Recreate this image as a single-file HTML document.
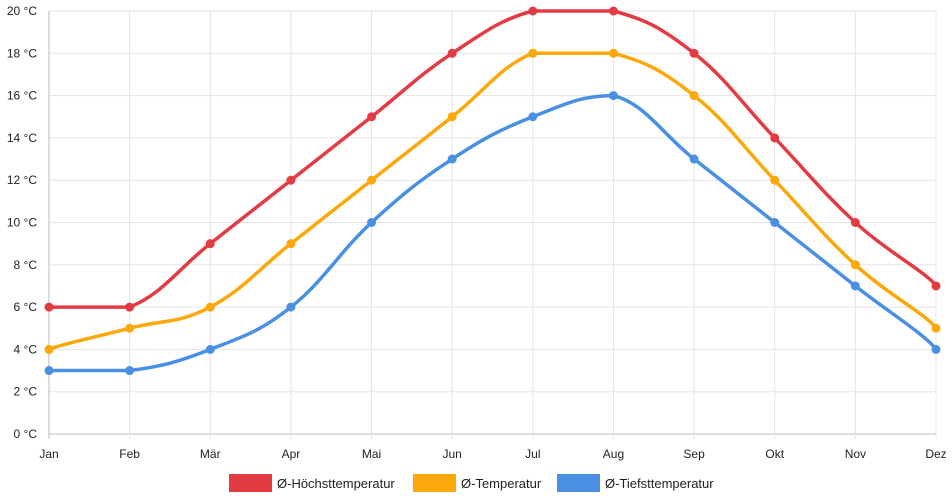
<!DOCTYPE html>
<html><head><meta charset="utf-8"><style>
body{margin:0;background:#fff;}
svg{display:block;font-family:"Liberation Sans",sans-serif;}
</style></head><body>
<svg id="c" width="952" height="500"></svg>
<script>
const categories=["Jan","Feb","Mär","Apr","Mai","Jun","Jul","Aug","Sep","Okt","Nov","Dez"];
const maxTemps=[6,6,9,12,15,18,20,20,18,14,10,7];
const avgTemps=[4,5,6,9,12,15,18,18,16,12,8,5];
const minTemps=[3,3,4,6,10,13,15,16,13,10,7,4];
const yTicks=[0,2,4,6,8,10,12,14,16,18,20];
const seriesNames=["Ø-Höchsttemperatur","Ø-Temperatur","Ø-Tiefsttemperatur"];
const NS="http://www.w3.org/2000/svg";
const svg=document.getElementById('c');
const x0=49,x1=936,yTop=11,yBot=434;
const xs=i=>x0+i*(x1-x0)/(categories.length-1);
const ys=v=>yBot-v*(yBot-yTop)/20;
function mk(t,a,p){const e=document.createElementNS(NS,t);for(const k in a)e.setAttribute(k,a[k]);(p||svg).appendChild(e);return e;}
const grid=mk('g',{});


yTicks.forEach(v=>{
  mk('line',{x1:x0,x2:x1,y1:ys(v),y2:ys(v),stroke:v===0?'#bbb':'#e5e5e5','stroke-width':1},grid);
  const t=mk('text',{x:37,y:ys(v)+4,'text-anchor':'end','font-size':12,fill:'#222'});
  t.textContent=v+' °C';
  
  
});
categories.forEach((c,i)=>{
  mk('line',{x1:xs(i),x2:xs(i),y1:yTop,y2:yBot+5,stroke:i===0?'#bbb':'#e5e5e5','stroke-width':1},grid);
  const t=mk('text',{x:xs(i),y:458,'text-anchor':'middle','font-size':12,fill:'#222'});
  t.textContent=c;
  
  
});
const colors=["#e23b44","#fba80a","#4a90e2"];
const data=[maxTemps,avgTemps,minTemps];
data.forEach((arr,s)=>{
  const g=mk('g',{});
  
  
  const pts=arr.map((v,i)=>[xs(i),ys(v)]);
  let d='M'+pts[0][0]+','+pts[0][1];
  const tn=0.2;
  for(let i=0;i<pts.length-1;i++){
    const p0=pts[Math.max(0,i-1)],p1=pts[i],p2=pts[i+1],p3=pts[Math.min(pts.length-1,i+2)];
    let c1y=p1[1]+(p2[1]-p0[1])*tn, c2y=p2[1]-(p3[1]-p1[1])*tn;
    const lo=Math.min(p1[1],p2[1]),hi=Math.max(p1[1],p2[1]);
    c1y=Math.max(lo,Math.min(hi,c1y));c2y=Math.max(lo,Math.min(hi,c2y));
    const c1x=p1[0]+(p2[0]-p0[0])*tn/ (i===0?2:1), c2x=p2[0]-(p3[0]-p1[0])*tn/(i+1===pts.length-1?2:1);
    d+=' C'+c1x+','+c1y+' '+c2x+','+c2y+' '+p2[0]+','+p2[1];
  }
  const path=mk('path',{d:d,fill:'none',stroke:colors[s],'stroke-width':3.5},g);
  
  
  pts.forEach(p=>{
    const c=mk('circle',{cx:p[0],cy:p[1],r:4.5,fill:colors[s]},g);
    
    
  });
});
const legX=[229,413,557];
seriesNames.forEach((n,s)=>{
  const g=mk('g',{});
  
  
  mk('rect',{x:legX[s],y:474,width:43,height:18,fill:colors[s]},g);
  const t=mk('text',{x:legX[s]+48,y:488,'font-size':13,fill:'#222'},g);
  t.textContent=n;
});
</script>
</body></html>
